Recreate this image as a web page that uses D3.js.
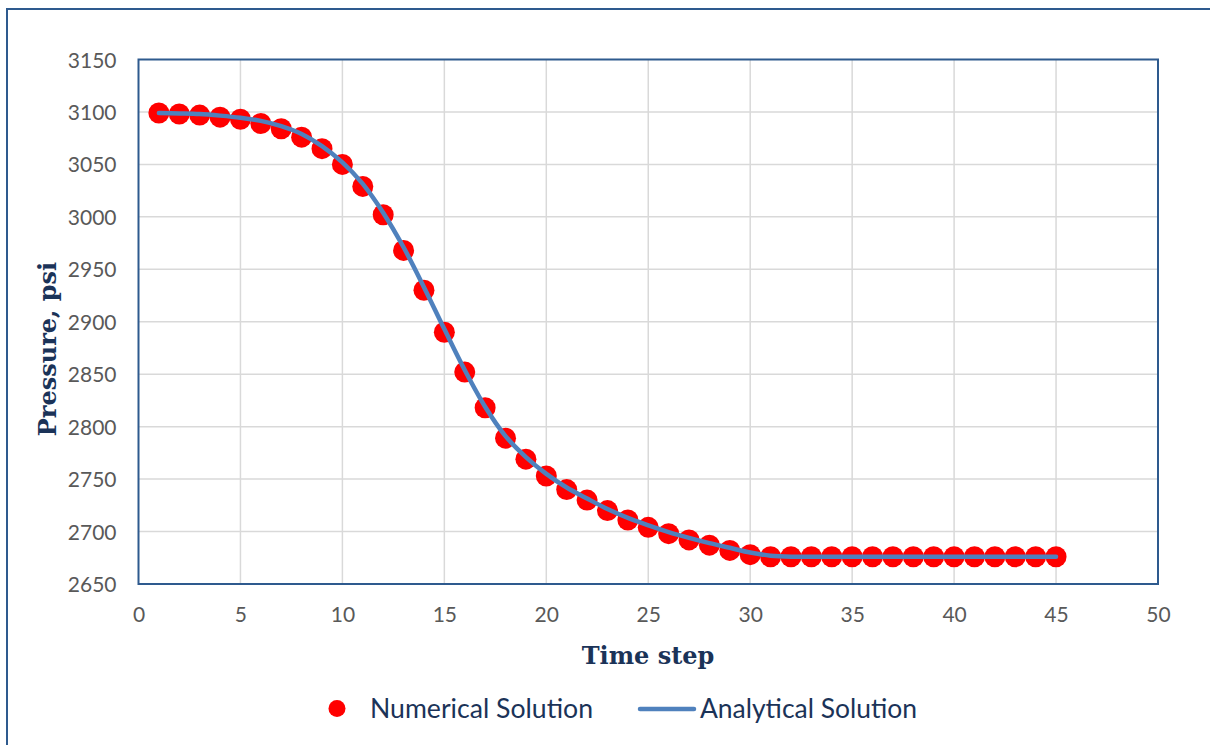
<!DOCTYPE html>
<html><head><meta charset="utf-8">
<script src="https://cdn.jsdelivr.net/npm/d3@7"></script>
<style>body{margin:0;background:#fff}svg{display:block}</style>
</head><body>
<script>
const timeSteps = d3.range(1, 46);
const numerical = [3099,3098,3097,3095,3093,3089,3084,3076,3065,3050,3029,3002,2968,2930,2890,2852,2818,2789,2769,2753,2740,2730,2720,2711,2704,2698,2692,2687,2682,2678,2676,2676,2676,2676,2676,2676,2676,2676,2676,2676,2676,2676,2676,2676,2676];
const analytical = [3099,3098.6,3098,3096.5,3094.5,3091.5,3086.5,3079,3067.5,3052,3031.5,3004,2971,2933,2893,2854,2819,2791,2771,2755,2742,2731.5,2721.5,2713,2706,2699.5,2694,2689,2684.5,2680,2677,2676,2676,2676,2676,2676,2676,2676,2676,2676,2676,2676,2676,2676,2676];
const xTicks = [0,5,10,15,20,25,30,35,40,45,50];
const yTicks = [2650,2700,2750,2800,2850,2900,2950,3000,3050,3100,3150];
const seriesNames = ["Numerical Solution","Analytical Solution"];

const W = 1210, H = 745;
const svg = d3.select("body").append("svg").attr("width", W).attr("height", H);
svg.append("rect").attr("width", W).attr("height", H).attr("fill", "#fff");
// outer frame
svg.append("rect").attr("x", 7).attr("y", 9).attr("width", W).attr("height", H)
  .attr("fill", "none").attr("stroke", "#2E5A8E").attr("stroke-width", 2);

const m = {l: 138.5, t: 59.5, r: 1158, b: 584};
const x = d3.scaleLinear().domain([0, 50]).range([m.l, m.r]);
const y = d3.scaleLinear().domain([2650, 3150]).range([m.b, m.t]);

const g = svg.append("g");
// grid
g.selectAll(".vg").data(xTicks.slice(1, -1)).join("line")
  .attr("x1", d => x(d)).attr("x2", d => x(d)).attr("y1", m.t).attr("y2", m.b)
  .attr("stroke", "#D9D9D9").attr("stroke-width", 1.5);
g.selectAll(".hg").data(yTicks.slice(1, -1)).join("line")
  .attr("y1", d => y(d)).attr("y2", d => y(d)).attr("x1", m.l).attr("x2", m.r)
  .attr("stroke", "#D9D9D9").attr("stroke-width", 1.5);
// plot border
g.append("rect").attr("x", m.l).attr("y", m.t).attr("width", m.r - m.l).attr("height", m.b - m.t)
  .attr("fill", "none").attr("stroke", "#2E5A8E").attr("stroke-width", 2);

// axes
const font = "Lato, 'Open Sans', sans-serif";
const xAxis = d3.axisBottom(x).tickValues(xTicks).tickSize(0).tickPadding(0).tickFormat(d3.format("d"));
const gx = svg.append("g").attr("transform", `translate(0,${m.b})`).call(xAxis);
gx.select(".domain").remove();
gx.selectAll("text").attr("dy", null).attr("y", 38).attr("font-family", font).attr("font-size", 21).attr("fill", "#595959");
const yAxis = d3.axisLeft(y).tickValues(yTicks).tickSize(0).tickPadding(0).tickFormat(d3.format("d"));
const gy = svg.append("g").attr("transform", `translate(${m.l},0)`).call(yAxis);
gy.select(".domain").remove();
gy.selectAll("text").attr("x", -22).attr("dy", "0.36em").attr("font-family", font).attr("font-size", 21).attr("fill", "#595959");

// titles
const titleColor = "#1B3358";
svg.append("text").attr("x", 648).attr("y", 664).attr("text-anchor", "middle")
  .attr("font-family", "'DejaVu Serif', serif").attr("font-weight", "bold").attr("font-size", 24)
  .attr("fill", titleColor).text("Time step");
svg.append("text").attr("transform", "translate(56,349) rotate(-90)").attr("text-anchor", "middle")
  .attr("font-family", "'DejaVu Serif', serif").attr("font-weight", "bold").attr("font-size", 24)
  .attr("fill", titleColor).text("Pressure, psi");

// numerical points
const red = "#FF0000", blue = "#4F81BD";
svg.append("g").selectAll("circle").data(timeSteps).join("circle")
  .attr("cx", (d) => x(d)).attr("cy", (d, i) => y(numerical[i])).attr("r", 10.5).attr("fill", red);
// analytical line
const line = d3.line().x(d => x(d)).y((d, i) => y(analytical[i])).curve(d3.curveCatmullRom.alpha(0.5));
svg.append("path").datum(timeSteps).attr("d", line).attr("fill", "none")
  .attr("stroke", blue).attr("stroke-width", 4.5).attr("stroke-linecap", "round").attr("stroke-linejoin", "round");

// legend
const lg = svg.append("g");
lg.append("circle").attr("cx", 337).attr("cy", 708.5).attr("r", 8.5).attr("fill", red);
lg.append("text").attr("x", 370).attr("y", 709).attr("dy", "0.35em").attr("font-family", font).attr("font-size", 26)
  .attr("textLength", 223).attr("lengthAdjust", "spacingAndGlyphs")
  .attr("fill", titleColor).text(seriesNames[0]);
lg.append("line").attr("x1", 640).attr("x2", 694).attr("y1", 709).attr("y2", 709)
  .attr("stroke", blue).attr("stroke-width", 4.5).attr("stroke-linecap", "round");
lg.append("text").attr("x", 700).attr("y", 709).attr("dy", "0.35em").attr("font-family", font).attr("font-size", 26)
  .attr("textLength", 217).attr("lengthAdjust", "spacingAndGlyphs")
  .attr("fill", titleColor).text(seriesNames[1]);
</script>
</body></html>
